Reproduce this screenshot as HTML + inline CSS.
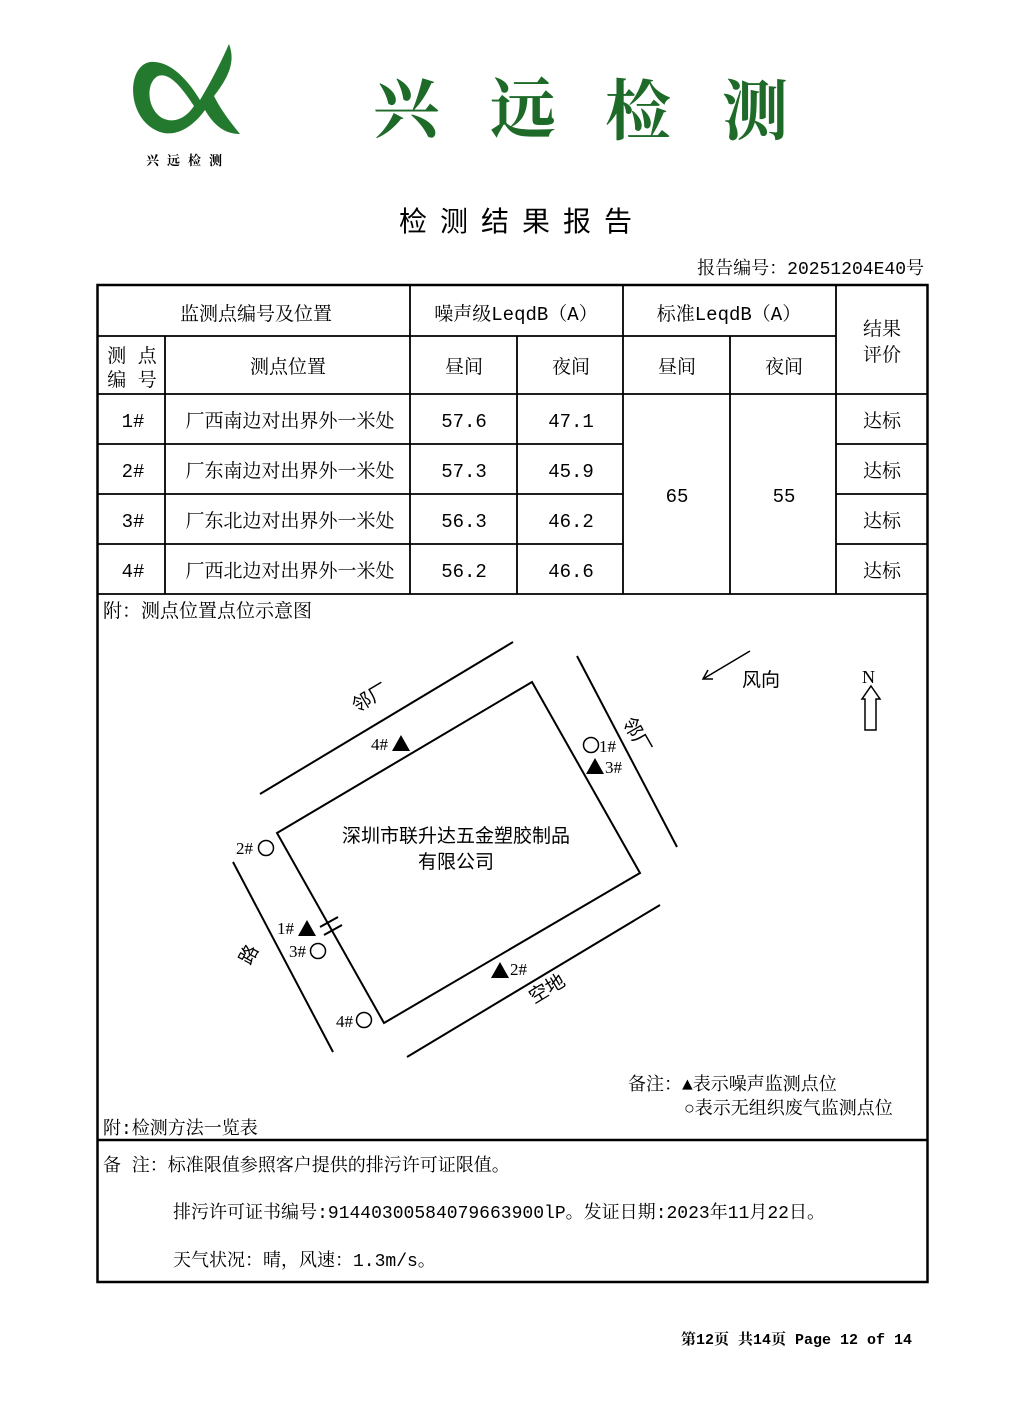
<!DOCTYPE html>
<html><head><meta charset="utf-8"><style>
html,body{margin:0;padding:0;background:#fff;}
svg{display:block}
</style></head><body>
<svg width="1024" height="1421" viewBox="0 0 1024 1421" xmlns="http://www.w3.org/2000/svg" font-family="'Liberation Mono','Noto Serif CJK SC',serif">
<!-- logo -->
<g fill="#237a2f">
<path d="M229,44 C222,60 212,80 200,100 C188,80 170,60 150,62 C126,66 126,120 160,132 C178,138 195,124 205,110 C212,122 222,134 240,134 C232,124 222,112 214,96 C228,78 236,62 229,44 Z M194,106 C186,118 174,124 162,118 C146,108 146,82 158,76 C170,72 182,88 194,106 Z"/>
</g>
<text x="188" y="165" font-size="13" font-weight="bold" text-anchor="middle" font-family="'Noto Serif CJK SC',serif" letter-spacing="8">兴远检测</text>
<g fill="#1e6a28" font-size="66" font-weight="bold" font-family="'Noto Serif CJK SC',serif">
<text x="373" y="132">兴</text><text x="490" y="132">远</text><text x="605" y="134">检</text><text x="722" y="134">测</text>
</g>
<text x="522" y="231" font-size="28" text-anchor="middle" font-family="'Noto Sans CJK SC',sans-serif" letter-spacing="13">检测结果报告</text>
<text x="924" y="274" font-size="18" text-anchor="end">报告编号：20251204E40号</text>

<!-- table -->
<g stroke="#000" fill="none">
<rect x="97.5" y="285" width="830" height="997" stroke-width="2.5"/>
<g stroke-width="1.8">
<line x1="97" y1="336" x2="836" y2="336"/>
<line x1="97" y1="394" x2="928" y2="394"/>
<line x1="97" y1="444" x2="623" y2="444"/><line x1="836" y1="444" x2="928" y2="444"/>
<line x1="97" y1="494" x2="623" y2="494"/><line x1="836" y1="494" x2="928" y2="494"/>
<line x1="97" y1="544" x2="623" y2="544"/><line x1="836" y1="544" x2="928" y2="544"/>
<line x1="97" y1="594" x2="928" y2="594"/>
<line x1="97" y1="1140" x2="928" y2="1140" stroke-width="2.5"/>
<line x1="165" y1="336" x2="165" y2="594"/>
<line x1="410" y1="285" x2="410" y2="594"/>
<line x1="517" y1="336" x2="517" y2="594"/>
<line x1="623" y1="285" x2="623" y2="594"/>
<line x1="730" y1="336" x2="730" y2="594"/>
<line x1="836" y1="285" x2="836" y2="594"/>
</g>
</g>
<g font-size="19" text-anchor="middle">
<text x="256" y="320">监测点编号及位置</text>
<text x="516" y="320">噪声级LeqdB（A）</text>
<text x="729" y="320">标准LeqdB（A）</text>
<text x="882" y="335">结果</text><text x="882" y="361">评价</text>
<text x="132" y="362">测 点</text><text x="132" y="386">编 号</text>
<text x="288" y="373">测点位置</text>
<text x="464" y="373">昼间</text><text x="571" y="373">夜间</text>
<text x="677" y="373">昼间</text><text x="784" y="373">夜间</text>
<text x="133" y="427">1#</text><text x="290" y="427">厂西南边对出界外一米处</text><text x="464" y="427">57.6</text><text x="571" y="427">47.1</text><text x="882" y="427">达标</text>
<text x="133" y="477">2#</text><text x="290" y="477">厂东南边对出界外一米处</text><text x="464" y="477">57.3</text><text x="571" y="477">45.9</text><text x="882" y="477">达标</text>
<text x="133" y="527">3#</text><text x="290" y="527">厂东北边对出界外一米处</text><text x="464" y="527">56.3</text><text x="571" y="527">46.2</text><text x="882" y="527">达标</text>
<text x="133" y="577">4#</text><text x="290" y="577">厂西北边对出界外一米处</text><text x="464" y="577">56.2</text><text x="571" y="577">46.6</text><text x="882" y="577">达标</text>
<text x="677" y="502">65</text><text x="784" y="502">55</text>
</g>
<text x="103" y="617" font-size="19">附：测点位置点位示意图</text>

<!-- diagram -->
<g stroke="#000" stroke-width="2" fill="none">
<polygon points="532,682 640,873 384,1023 277,833"/>
<line x1="260" y1="794" x2="513" y2="642"/>
<line x1="577" y1="656" x2="677" y2="847"/>
<line x1="660" y1="905" x2="407" y2="1057"/>
<line x1="233" y1="862" x2="333" y2="1052"/>
<line x1="320" y1="927" x2="338" y2="917"/>
<line x1="324" y1="935" x2="342" y2="925"/>
<circle cx="266" cy="848" r="7.5" stroke-width="1.5"/>
<circle cx="318" cy="951" r="7.5" stroke-width="1.5"/>
<circle cx="364" cy="1020" r="7.5" stroke-width="1.5"/>
<circle cx="591" cy="745" r="7.5" stroke-width="1.5"/>
<line x1="750" y1="651" x2="703" y2="679" stroke-width="1.5"/>
<polyline points="713,679 703,679 708,670" stroke-width="1.5"/>
<polygon points="871,686 880,699 876,699 876,730 865,730 865,699 862,699" stroke-width="1.5"/>
</g>
<g fill="#000">
<polygon points="401,735 410,751 392,751"/>
<polygon points="595,758 604,774 586,774"/>
<polygon points="307,920 316,936 298,936"/>
<polygon points="500,962 509,978 491,978"/>
</g>
<g font-size="17" font-family="'Liberation Serif',serif">
<text x="371" y="750">4#</text>
<text x="599" y="752">1#</text>
<text x="605" y="773">3#</text>
<text x="236" y="854">2#</text>
<text x="277" y="934">1#</text>
<text x="289" y="957">3#</text>
<text x="336" y="1027">4#</text>
<text x="510" y="975">2#</text>
<text x="862" y="683" font-size="18">N</text>
</g>
<g font-size="19" font-family="'Noto Sans CJK SC',sans-serif">
<text x="456" y="842" text-anchor="middle">深圳市联升达五金塑胶制品</text>
<text x="456" y="868" text-anchor="middle">有限公司</text>
<text x="742" y="686">风向</text>
<text transform="translate(357,713) rotate(-31)">邻厂</text>
<text transform="translate(622,722) rotate(60)">邻厂</text>
<text transform="translate(250,966) rotate(-62)">路</text>
<text transform="translate(534,1004) rotate(-31)">空地</text>
</g>
<g font-size="18">
<text x="628" y="1090">备注：▲表示噪声监测点位</text>
<text x="684" y="1114">○表示无组织废气监测点位</text>
<text x="103" y="1134">附:检测方法一览表</text>
<text x="103" y="1171">备 注：标准限值参照客户提供的排污许可证限值。</text>
<text x="173" y="1218" textLength="652" lengthAdjust="spacingAndGlyphs">排污许可证书编号:91440300584079663900lP。发证日期:2023年11月22日。</text>
<text x="173" y="1266">天气状况：晴，风速：1.3m/s。</text>
</g>
<text x="912" y="1344" font-size="15" font-weight="bold" text-anchor="end">第12页 共14页 Page 12 of 14</text>
</svg>
</body></html>
